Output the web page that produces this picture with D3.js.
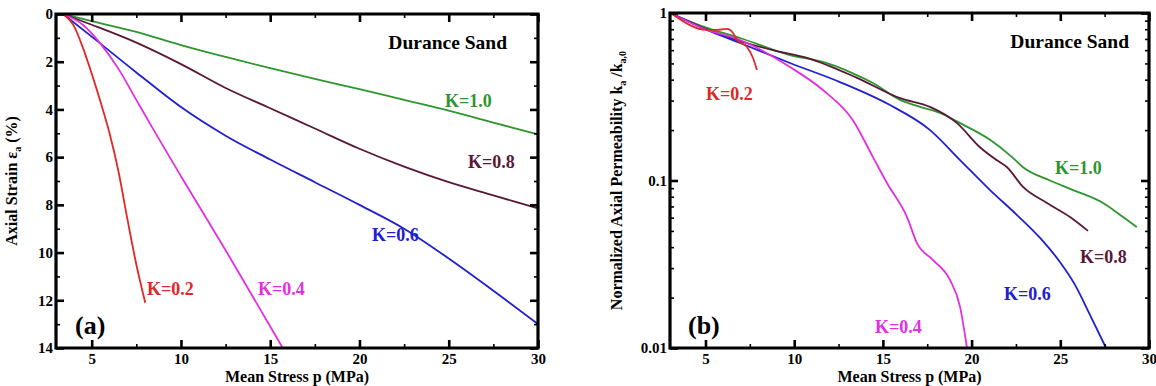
<!DOCTYPE html>
<html>
<head>
<meta charset="utf-8">
<script src="https://cdn.jsdelivr.net/npm/d3@7"></script>
<style>
  body { margin: 0; background: #fff; }
  svg { font-family: "Liberation Serif", "DejaVu Serif", serif; font-weight: bold; }
</style>
</head>
<body>
<div id="chart"></div>
<script>
// panel (a): axial strain (%) vs mean stress p (MPa)
const strainK10 = [[3.4,0],[5,0.3],[7.5,0.75],[10,1.3],[12.5,1.8],[15,2.27],[17.5,2.72],[20,3.15],[22.5,3.6],[25,4.05],[27.5,4.55],[30,5.05]];
const strainK08 = [[3.4,0],[5,0.45],[7.5,1.2],[10,2.1],[12.5,3.1],[15,3.95],[17.5,4.8],[20,5.65],[22.5,6.4],[25,7.05],[27.5,7.6],[30,8.15]];
const strainK06 = [[3.4,0],[5,0.95],[7.5,2.45],[10,3.9],[12.5,5.1],[15,6.1],[17.5,7.05],[20,8.0],[22.5,9.0],[25,10.25],[27.5,11.6],[30,13.0]];
const strainK04 = [[3.4,0],[4.5,0.45],[5.5,1.25],[6.5,2.3],[7.5,3.6],[8.5,4.9],[10,6.8],[12.5,9.9],[15,13.1],[15.7,14]];
const strainK02 = [[3.4,0],[4,0.5],[4.5,1.4],[5,2.5],[5.5,3.7],[6,5.0],[6.5,6.6],[7,8.6],[7.5,10.5],[8,12.1]];

// panel (b): normalized axial permeability vs mean stress p (MPa)
const permK10 = [[3.1,0.99],[5.09,0.814],[6.95,0.709],[9.76,0.561],[11.62,0.51],[13.15,0.444],[14.44,0.382],[15.97,0.303],[17.09,0.275],[18.22,0.253],[19.35,0.22],[21.04,0.175],[22.28,0.138],[22.9,0.12],[24.42,0.1],[25.72,0.0877],[27.41,0.0734],[28.54,0.0605],[29.32,0.0527]];
const permK08 = [[3.1,0.99],[5.09,0.80],[6.95,0.68],[8.8,0.6],[10.72,0.54],[13.54,0.41],[15.97,0.31],[17.66,0.275],[19.18,0.22],[20.47,0.158],[21.43,0.132],[22.0,0.12],[22.9,0.0915],[24.25,0.0734],[25.55,0.0605],[26.56,0.05]];
const permK06 = [[3.1,0.99],[5.09,0.792],[6.95,0.662],[9.76,0.503],[12.58,0.387],[15.4,0.282],[17.66,0.2],[19.35,0.1325],[21.04,0.0877],[22.56,0.0622],[23.86,0.0454],[24.98,0.0326],[25.83,0.0238],[26.68,0.0157],[27.58,0.01]];
const permK04 = [[3.1,0.99],[5.09,0.792],[6.95,0.69],[9.76,0.476],[11.62,0.347],[13.3,0.23],[14.44,0.138],[15.23,0.0966],[16.36,0.0605],[16.92,0.0423],[17.83,0.0335],[18.78,0.0255],[19.35,0.0176],[19.74,0.01]];
const permK02 = [[3.1,0.99],[5.09,0.792],[5.65,0.792],[6.21,0.803],[6.55,0.76],[6.78,0.69],[7.34,0.627],[7.68,0.539],[7.9,0.457]];

const kLabels = ['K=1.0', 'K=0.8', 'K=0.6', 'K=0.4', 'K=0.2'];
const colors = ['#2f952f', '#5a1838', '#2020d0', '#e030e0', '#e02828'];

const xTicks = [5, 10, 15, 20, 25, 30];
const xMinor = [7.5, 12.5, 17.5, 22.5, 27.5];
const strainTicks = [0, 2, 4, 6, 8, 10, 12, 14];
const strainMinor = [1, 3, 5, 7, 9, 11, 13];
const permTicks = [0.01, 0.1, 1];
const permMinor = [2,3,4,5,6,7,8,9].flatMap(m => [m * 0.01, m * 0.1]);

const W = 1156, H = 386;
const svg = d3.select('#chart').append('svg')
    .attr('width', W)
    .attr('height', H);

function drawPanel(opt) {
  const g = svg.append('g');
  const x = opt.x, y = opt.y;
  const [x0, x1] = x.range();
  const top = d3.min(y.range()), bottom = d3.max(y.range());

  // curves
  const line = d3.line()
      .x(d => x(d[0]))
      .y(d => y(d[1]))
      .curve(d3.curveMonotoneX);
  g.append('g').selectAll('path')
      .data(opt.series)
      .join('path')
      .attr('fill', 'none')
      .attr('stroke', (d, i) => colors[i])
      .attr('stroke-width', 1.8)
      .attr('d', line);

  // axes, ticks inward on all four sides
  const axes = [
    [d3.axisBottom(x).tickValues(xTicks).tickSize(-8).tickPadding(5), `translate(0,${bottom})`, true],
    [d3.axisBottom(x).tickValues(opt.xMinor).tickSize(-4).tickFormat(''), `translate(0,${bottom})`, false],
    [d3.axisTop(x).tickValues(xTicks).tickSize(-8).tickFormat(''), `translate(0,${top})`, true],
    [d3.axisTop(x).tickValues(opt.xMinor).tickSize(-4).tickFormat(''), `translate(0,${top})`, false],
    [d3.axisLeft(y).tickValues(opt.yTicks).tickSize(-8).tickPadding(3).tickFormat(opt.yFormat), `translate(${x0},0)`, true],
    [d3.axisLeft(y).tickValues(opt.yMinor).tickSize(-4).tickFormat(''), `translate(${x0},0)`, false],
    [d3.axisRight(y).tickValues(opt.yTicks).tickSize(-8).tickFormat(''), `translate(${x1},0)`, true],
    [d3.axisRight(y).tickValues(opt.yMinor).tickSize(-4).tickFormat(''), `translate(${x1},0)`, false]
  ];
  axes.forEach(([ax, tr, major]) => {
    const a = g.append('g').attr('transform', tr).call(ax);
    a.select('.domain').remove();
    a.selectAll('line')
        .style('stroke', '#000')
        .style('stroke-width', major ? 2.6 : 1.6);
    a.selectAll('text')
        .attr('fill', '#000')
        .style('font-family', '"Liberation Serif", serif')
        .style('font-weight', 'bold')
        .style('font-size', '15px');
  });

  // frame
  g.append('path')
      .attr('d', `M${x0},${top}H${x1}V${bottom}H${x0}Z`)
      .style('fill', 'none')
      .style('stroke', '#000')
      .style('stroke-width', 3.2);

  // x title
  g.append('text')
      .attr('x', (x0 + x1) / 2)
      .attr('y', 382)
      .attr('text-anchor', 'middle')
      .style('font-size', '16px')
      .text('Mean Stress p (MPa)');

  // y title
  const yt = g.append('text')
      .attr('transform', `translate(${opt.yTitleX},${(top + bottom) / 2}) rotate(-90)`)
      .attr('text-anchor', 'middle')
      .style('font-size', '16px');
  opt.yTitle.forEach(([s, sub], i) => {
    yt.append('tspan')
        .attr('dy', sub ? 4 : (i ? -4 : 0))
        .style('font-size', sub ? '10px' : '16px')
        .text(s);
  });

  g.append('text')
      .attr('x', opt.sandX).attr('y', opt.sandY)
      .attr('text-anchor', 'end')
      .style('font-size', '19.5px')
      .text('Durance Sand');

  g.append('text')
      .attr('x', opt.tagX).attr('y', 334)
      .style('font-size', '26px')
      .text(opt.tag);

  g.append('g').selectAll('text')
      .data(opt.labelPos)
      .join('text')
      .attr('x', d => d[0]).attr('y', d => d[1])
      .attr('fill', (d, i) => colors[i])
      .style('font-size', '18px')
      .text((d, i) => kLabels[i]);
}

drawPanel({
  x: d3.scaleLinear([3, 30], [56, 538]),
  y: d3.scaleLinear([0, 14], [14, 348]),
  series: [strainK10, strainK08, strainK06, strainK04, strainK02],
  xMinor: xMinor,
  yTicks: strainTicks,
  yMinor: strainMinor,
  yFormat: d3.format('d'),
  yTitleX: 17,
  yTitle: [['Axial Strain \u03b5', false], ['a', true], [' (%)', false]],
  sandX: 507, sandY: 49,
  tag: '(a)', tagX: 75,
  labelPos: [[445, 107], [468, 168], [372, 241], [258, 295], [147, 295]]
});

drawPanel({
  x: d3.scaleLinear([3, 30], [670, 1149]),
  y: d3.scaleLog([0.01, 1], [348, 13]),
  series: [permK10, permK08, permK06, permK04, permK02],
  xMinor: xMinor,
  yTicks: permTicks,
  yMinor: permMinor,
  yFormat: d => d === 1 ? '1' : String(d),
  yTitleX: 622,
  yTitle: [['Normalized Axial Permeability k', false], ['a', true], [' /k', false], ['a,0', true]],
  sandX: 1129, sandY: 48,
  tag: '(b)', tagX: 688,
  labelPos: [[1055, 174], [1080, 263], [1004, 300], [875, 333], [706, 100]]
});
</script>
</body>
</html>
